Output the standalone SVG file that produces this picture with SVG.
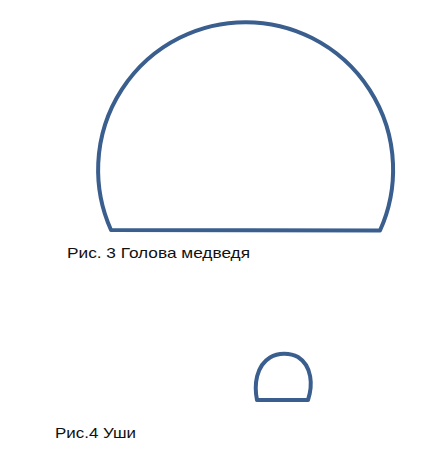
<svg xmlns="http://www.w3.org/2000/svg" width="440" height="458" viewBox="0 0 440 458">
<style>
.shape{fill:none;stroke:#3A5F8F;stroke-width:4;stroke-linejoin:round}
.lbl{font-family:"Liberation Sans","DejaVu Sans",sans-serif;font-size:14.5px;fill:#111}
</style>
<rect width="440" height="458" fill="#fff"/>
<g id="head">
<path class="shape" d="M111,230 A147.5,147.5 0 1 1 380,230.5 Z"/>
<text class="lbl" x="67" y="258" textLength="183" lengthAdjust="spacingAndGlyphs">Рис. 3 Голова медведя</text>
</g>
<g id="ears">
<path class="shape" d="M257,400 C254,385 256,366 270,357.5 C278,352.5 290,352.5 298,357 C312,366 313,385 308,400 Z"/>
<text class="lbl" x="55" y="438" textLength="81" lengthAdjust="spacingAndGlyphs">Рис.4 Уши</text>
</g>
</svg>
